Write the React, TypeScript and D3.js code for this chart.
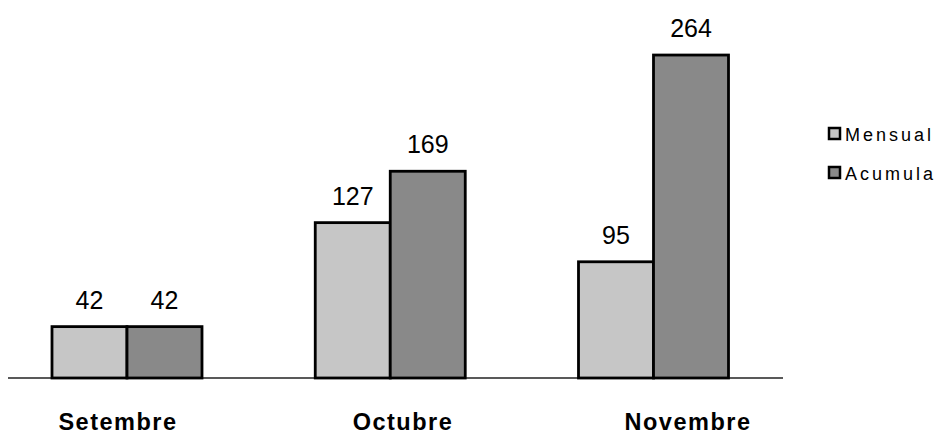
import React from "react";
import * as d3 from "d3";

const categories = ["Setembre", "Octubre", "Novembre"];
const mensual = [42, 127, 95];
const acumulat = [42, 169, 264];
const seriesNames = ["Mensual", "Acumula"];
const seriesColors = ["#c6c6c6", "#898989"];

export default function App() {
  const W = 947;
  const H = 434;
  const baseline = 378;
  const barW = 75;
  const x = d3.scalePoint<string>().domain(categories).range([127, 653.5]);
  const xLabel = d3.scalePoint<string>().domain(categories).range([118, 688]);
  const y = d3.scaleLinear().domain([0, 300]).range([baseline, 11]);
  const series = [mensual, acumulat];
  const font = "'Liberation Sans', Arial, sans-serif";

  return (
    <svg
      width={W}
      height={H}
      style={{ position: "absolute", left: 0, top: 0, background: "#fff" }}
      fontFamily={font}
    >
      <rect x={0} y={0} width={W} height={H} fill="#fff" />
      <line x1={8} x2={783} y1={baseline} y2={baseline} stroke="#222" strokeWidth={1.5} />
      {categories.map((c, i) =>
        series.map((s, j) => {
          const cx = (x(c) as number) + (j === 0 ? -barW : 0);
          const top = y(s[i]);
          return (
            <g key={c + j}>
              <rect
                x={cx}
                y={top}
                width={barW}
                height={baseline - top}
                fill={seriesColors[j]}
                stroke="#000"
                strokeWidth={2.8}
              />
              <text
                x={cx + barW / 2}
                y={top - 18}
                textAnchor="middle"
                fontSize={25}
                fill="#000"
              >
                {s[i]}
              </text>
            </g>
          );
        })
      )}
      {categories.map((c) => (
        <text
          key={c}
          x={xLabel(c) as number}
          y={430}
          textAnchor="middle"
          fontSize={23.5}
          fontWeight="bold"
          letterSpacing={1.5}
          fill="#000"
        >
          {c}
        </text>
      ))}
      {seriesNames.map((n, j) => (
        <g key={n} transform={`translate(829, ${128 + j * 39})`}>
          <rect x={0} y={0} width={11} height={11} fill={seriesColors[j]} stroke="#000" strokeWidth={2.5} />
          <text x={16} y={13} fontSize={18} letterSpacing={3} fill="#000">
            {n}
          </text>
        </g>
      ))}
    </svg>
  );
}
